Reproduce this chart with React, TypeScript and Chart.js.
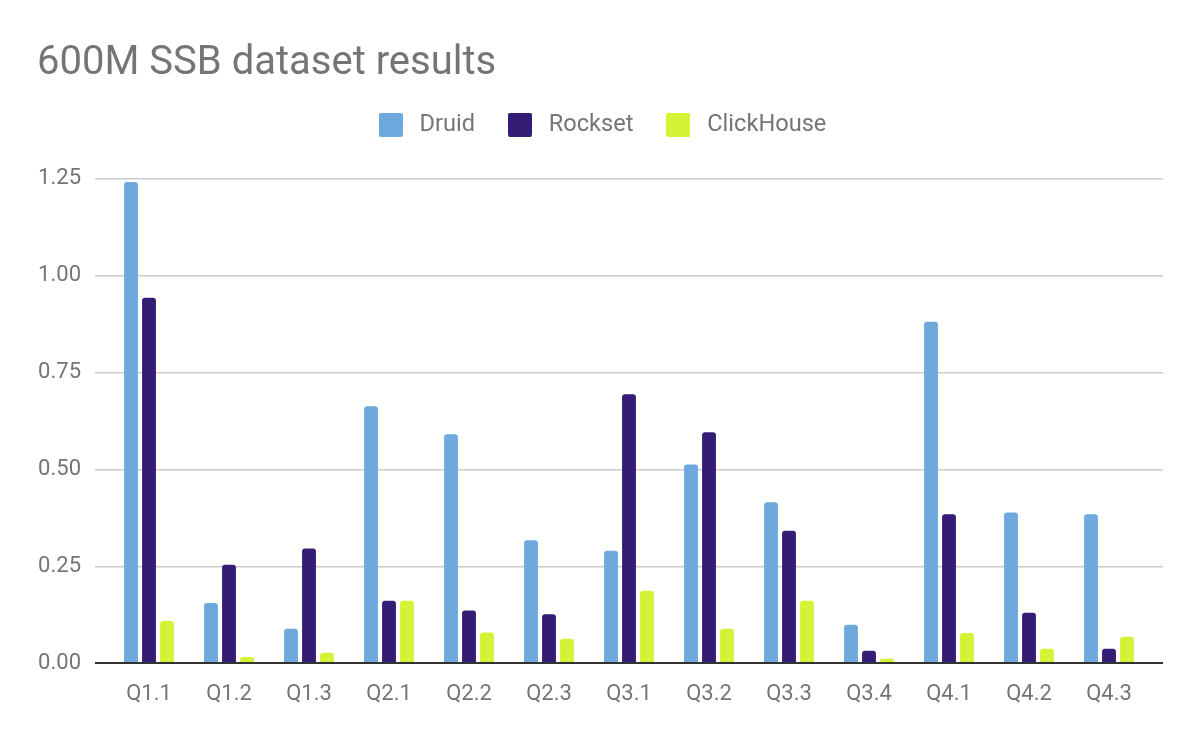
import { useEffect, useRef } from 'react';
import { Chart, registerables } from 'chart.js';

Chart.register(...registerables);

const categories = ['Q1.1', 'Q1.2', 'Q1.3', 'Q2.1', 'Q2.2', 'Q2.3', 'Q3.1', 'Q3.2', 'Q3.3', 'Q3.4', 'Q4.1', 'Q4.2', 'Q4.3'];
const druid = [1.242, 0.155, 0.089, 0.663, 0.591, 0.317, 0.290, 0.513, 0.415, 0.099, 0.881, 0.389, 0.384];
const rockset = [0.943, 0.254, 0.296, 0.161, 0.136, 0.126, 0.694, 0.596, 0.342, 0.032, 0.384, 0.130, 0.037];
const clickhouse = [0.109, 0.016, 0.027, 0.161, 0.079, 0.063, 0.187, 0.089, 0.161, 0.011, 0.078, 0.037, 0.068];
const yTicks = [0, 0.25, 0.5, 0.75, 1.0, 1.25];
const seriesNames = ['Druid', 'Rockset', 'ClickHouse'];
const seriesColors = ['#6fa8dc', '#351c75', '#d4f236'];
const titleText = '600M SSB dataset results';

const TEXT_COLOR = '#757575';
const FONT = 'Roboto';

function swatch(color: string) {
  const c = document.createElement('canvas');
  c.width = 24;
  c.height = 24;
  const g = c.getContext('2d')!;
  g.fillStyle = color;
  g.beginPath();
  (g as any).roundRect(0, 0, 24, 24, 2);
  g.fill();
  return c;
}

export default function App() {
  const ref = useRef<HTMLCanvasElement | null>(null);

  useEffect(() => {
    if (!ref.current) return;
    const seriesValues = [druid, rockset, clickhouse];
    const datasets = seriesNames.map((name, k) => ({
      label: name,
      data: categories.map((_, i) => ({ x: i, y: seriesValues[k][i] })),
      backgroundColor: seriesColors[k],
      borderRadius: 3,
      borderSkipped: 'start' as const,
      pointStyle: swatch(seriesColors[k]),
      categoryPercentage: 0.675,
      barPercentage: 0.77,
    }));

    const chart = new Chart(ref.current, {
      type: 'bar',
      data: { datasets: datasets as any },
      options: {
        animation: false,
        responsive: false,
        devicePixelRatio: 1,
        layout: { padding: { left: 37, right: 37, top: 0, bottom: 16.5 } },
        plugins: {
          tooltip: { enabled: false },
          title: {
            display: true,
            text: titleText,
            align: 'start',
            color: TEXT_COLOR,
            font: { family: FONT, size: 40, weight: 'normal', lineHeight: 1.15 },
            padding: { top: 41, bottom: -2 },
          },
          legend: {
            display: true,
            position: 'top',
            align: 'center',
            labels: {
              usePointStyle: true,
              pointStyleWidth: 34,
              boxHeight: 24,
              padding: 28,
              color: TEXT_COLOR,
              font: { family: FONT, size: 23.6 },
            },
          },
        },
        scales: {
          x: {
            type: 'linear',
            offset: false,
            min: -0.675,
            max: 12.675,
            afterBuildTicks: (s: any) => {
              s.ticks = categories.map((_, i) => ({ value: i }));
            },
            grid: { display: false, drawTicks: false },
            border: { display: false },
            ticks: {
              autoSkip: false,
              maxRotation: 0,
              padding: 18,
              color: TEXT_COLOR,
              font: { family: FONT, size: 22 },
              callback: (v: any) => categories[v] ?? '',
            },
          },
          y: {
            min: 0,
            max: 1.3335,
            afterBuildTicks: (s: any) => {
              s.ticks = yTicks.map((v) => ({ value: v }));
            },
            afterFit: (s: any) => {
              s.width = 58;
            },
            grid: {
              color: (c: any) => (c.tick && c.tick.value === 0 ? '#333333' : '#cccccc'),
              lineWidth: (c: any) => (c.tick && c.tick.value === 0 ? 2 : 1.5),
              drawTicks: false,
            },
            border: { display: false },
            ticks: {
              padding: 14,
              color: TEXT_COLOR,
              font: { family: FONT, size: 22 },
              callback: (v: any) => Number(v).toFixed(2),
            },
          },
        },
      },
    });
    return () => chart.destroy();
  }, []);

  return (
    <div style={{ position: 'absolute', left: 0, top: 0, width: 1200, height: 742, background: '#ffffff' }}>
      <canvas ref={ref} width={1200} height={742} />
    </div>
  );
}
